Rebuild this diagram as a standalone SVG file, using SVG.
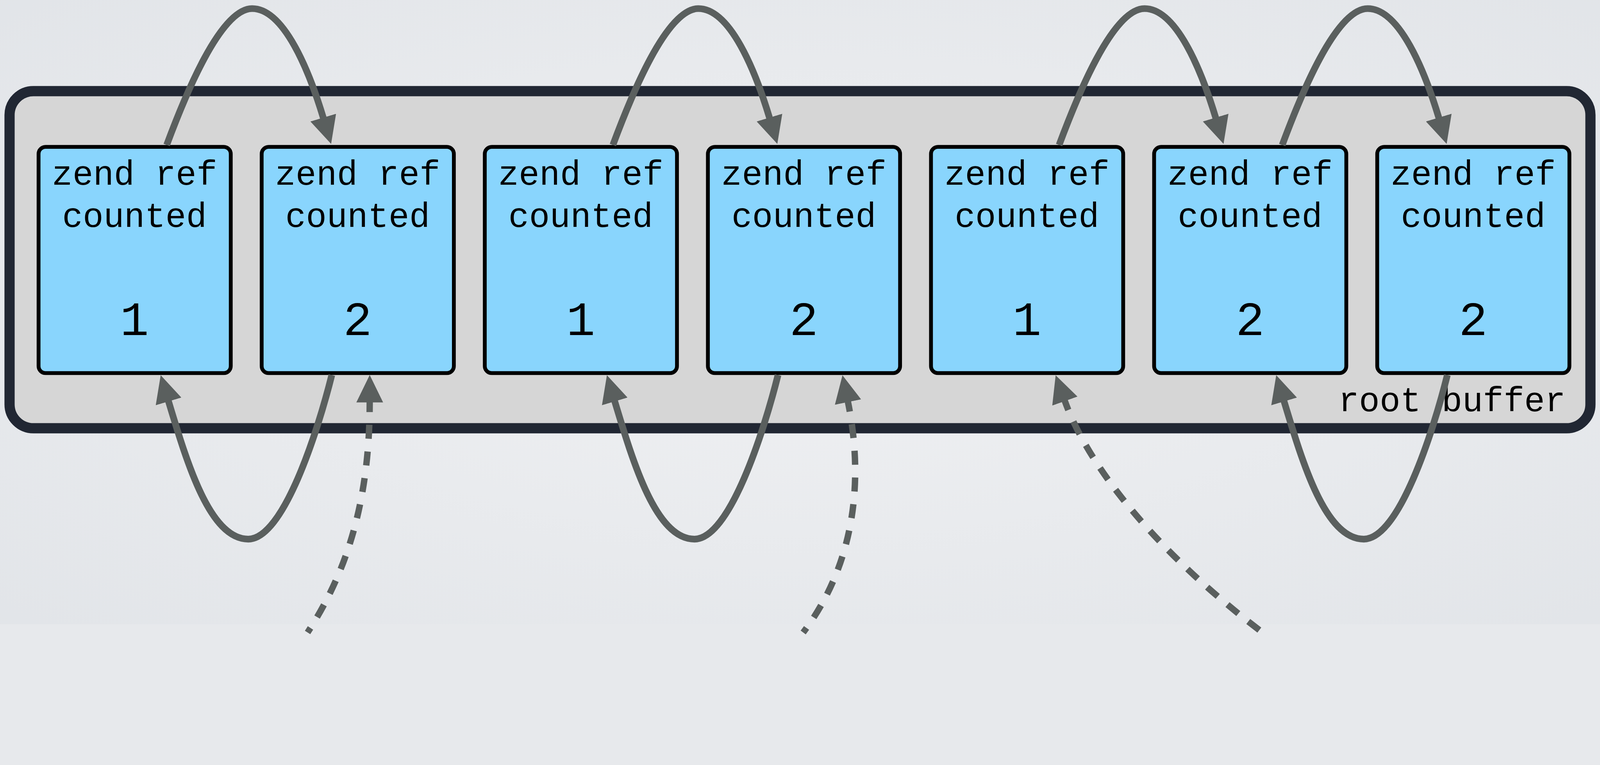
<svg xmlns="http://www.w3.org/2000/svg" width="5020" height="1959" viewBox="0 0 5020 1959" preserveAspectRatio="xMinYMin meet">
  <defs>
    <radialGradient id="bg" cx="50%" cy="50%" r="75%">
      <stop offset="0" stop-color="#f0f1f3"/>
      <stop offset="1" stop-color="#e1e4e8"/>
    </radialGradient>
    <marker id="ah" markerUnits="userSpaceOnUse" viewBox="0 0 86 84" markerWidth="86" markerHeight="84" refX="3" refY="42" orient="auto-start-reverse">
      <path d="M0,0 L86,42 L0,84 Z" fill="#5a5f5e"/>
    </marker>
  </defs>
  <style>
    svg:root { max-width: 100vw; max-height: 100vh; background: #e7e9ec; }
    .outer { fill: #d6d6d6; stroke: #212733; stroke-width: 32; }
    .node rect { fill: #89d5fd; stroke: #000000; stroke-width: 12; }
    .lbl { font-family: "Liberation Mono", "Courier New", monospace; font-size: 108px; fill: #000000; text-anchor: middle; }
    .num { font-family: "Liberation Mono", "Courier New", monospace; font-size: 150px; fill: #000000; text-anchor: middle; }
    .rb { font-family: "Liberation Mono", "Courier New", monospace; font-size: 108px; fill: #000000; text-anchor: end; }
    .arc { fill: none; stroke: #5a5f5e; stroke-width: 21; marker-end: url(#ah); }
    .dash { fill: none; stroke: #5a5f5e; stroke-width: 20; stroke-dasharray: 44 40; stroke-dashoffset: 11; marker-start: url(#ah); }
  </style>

  <rect x="0" y="0" width="5020" height="1959" fill="url(#bg)"/>

  <g id="root-buffer">
    <rect class="outer" x="30" y="286" width="4960" height="1058" rx="75" ry="75"/>
    <text class="rb" x="4912" y="1290">root buffer</text>
  </g>

  <g id="node1" class="node">
    <rect x="121" y="461" width="603" height="710" rx="22" ry="22"/>
    <text class="lbl" x="422" y="580">zend ref</text>
    <text class="lbl" x="422" y="712">counted</text>
    <text class="num" x="422" y="1052">1</text>
  </g>
  <g id="node2" class="node">
    <rect x="821" y="461" width="603" height="710" rx="22" ry="22"/>
    <text class="lbl" x="1122" y="580">zend ref</text>
    <text class="lbl" x="1122" y="712">counted</text>
    <text class="num" x="1122" y="1052">2</text>
  </g>
  <g id="node3" class="node">
    <rect x="1521" y="461" width="603" height="710" rx="22" ry="22"/>
    <text class="lbl" x="1822" y="580">zend ref</text>
    <text class="lbl" x="1822" y="712">counted</text>
    <text class="num" x="1822" y="1052">1</text>
  </g>
  <g id="node4" class="node">
    <rect x="2221" y="461" width="603" height="710" rx="22" ry="22"/>
    <text class="lbl" x="2522" y="580">zend ref</text>
    <text class="lbl" x="2522" y="712">counted</text>
    <text class="num" x="2522" y="1052">2</text>
  </g>
  <g id="node5" class="node">
    <rect x="2921" y="461" width="603" height="710" rx="22" ry="22"/>
    <text class="lbl" x="3222" y="580">zend ref</text>
    <text class="lbl" x="3222" y="712">counted</text>
    <text class="num" x="3222" y="1052">1</text>
  </g>
  <g id="node6" class="node">
    <rect x="3621" y="461" width="603" height="710" rx="22" ry="22"/>
    <text class="lbl" x="3922" y="580">zend ref</text>
    <text class="lbl" x="3922" y="712">counted</text>
    <text class="num" x="3922" y="1052">2</text>
  </g>
  <g id="node7" class="node">
    <rect x="4321" y="461" width="603" height="710" rx="22" ry="22"/>
    <text class="lbl" x="4622" y="580">zend ref</text>
    <text class="lbl" x="4622" y="712">counted</text>
    <text class="num" x="4622" y="1052">2</text>
  </g>

  <g id="connectors">
    <path class="arc" d="M 523 455 C 580 302, 691 27, 791 27 C 891 27, 970 222, 1015 372"/>
    <path class="arc" d="M 1923 455 C 1980 302, 2091 27, 2191 27 C 2291 27, 2370 222, 2415 372"/>
    <path class="arc" d="M 3323 455 C 3380 302, 3491 27, 3591 27 C 3691 27, 3770 222, 3815 372"/>
    <path class="arc" d="M 4023 455 C 4080 302, 4191 27, 4291 27 C 4391 27, 4470 222, 4515 372"/>

    <path class="arc" d="M 1041 1177 C 996 1357, 889 1692, 779 1692 C 659 1692, 588 1457, 528 1257"/>
    <path class="arc" d="M 2441 1177 C 2396 1357, 2289 1692, 2179 1692 C 2059 1692, 1988 1457, 1928 1257"/>
    <path class="arc" d="M 4541 1177 C 4496 1357, 4389 1692, 4279 1692 C 4159 1692, 4088 1457, 4028 1257"/>

    <path class="dash" d="M 1160 1260 C 1160 1580, 1085 1800, 965 1985"/>
    <path class="dash" d="M 2660 1259 C 2720 1550, 2660 1800, 2520 1985"/>
    <path class="dash" d="M 3340 1256 C 3420 1480, 3650 1750, 3965 1988"/>
  </g>
</svg>
